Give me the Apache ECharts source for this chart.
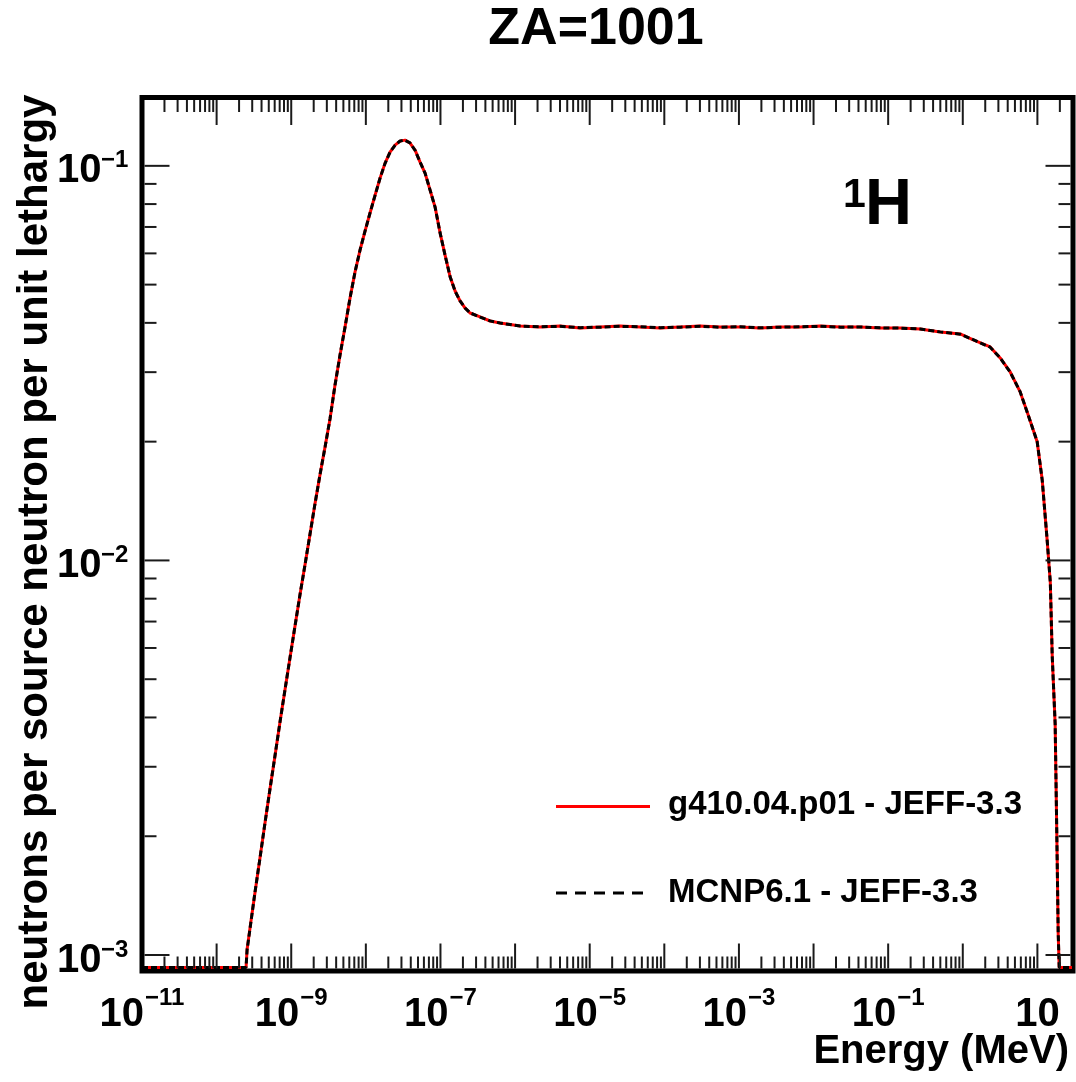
<!DOCTYPE html>
<html>
<head>
<meta charset="utf-8">
<title>ZA=1001</title>
<script src="https://cdn.jsdelivr.net/npm/echarts@6/dist/echarts.min.js"></script>
<style>
html, body { margin: 0; padding: 0; background: #fff; }
#main { width: 1076px; height: 1082px; }
</style>
</head>
<body>
<div id="main"></div>
<script>
var FONT = '"Liberation Sans", Arial, Helvetica, sans-serif';

// energy (MeV)
var energy = [1e-11, 2.48e-10, 2.56e-10, 2.81e-10, 3.27e-10, 3.82e-10, 4.46e-10, 5.20e-10, 6.07e-10, 7.08e-10,
    8.26e-10, 9.64e-10, 1.125e-9, 1.31e-9, 1.53e-9, 1.79e-9, 2.08e-9, 2.43e-9, 2.84e-9, 3.31e-9,
    3.86e-9, 4.51e-9, 5.26e-9, 6.14e-9, 7.16e-9, 8.36e-9, 9.75e-9, 1.138e-8, 1.33e-8, 1.55e-8,
    1.81e-8, 2.11e-8, 2.46e-8, 2.87e-8, 3.35e-8, 3.91e-8, 4.57e-8, 5.33e-8, 6.22e-8, 7.26e-8,
    8.47e-8, 9.89e-8, 1.153e-7, 1.35e-7, 1.57e-7, 1.83e-7, 2.14e-7, 2.49e-7, 3.40e-7, 4.62e-7,
    6.30e-7, 1.17e-6, 2.16e-6, 4.01e-6, 7.43e-6, 1.38e-5, 2.56e-5, 4.74e-5, 8.79e-5, 1.63e-4,
    3.02e-4, 5.60e-4, 1.04e-3, 1.92e-3, 3.56e-3, 6.61e-3, 1.22e-2, 2.28e-2, 4.22e-2, 7.82e-2,
    0.145, 0.269, 0.498, 0.923, 1.38, 2.33, 3.17, 4.32, 5.87, 7.53,
    9.93, 11.6, 13.5, 14.9, 15.8, 17.3, 18.4, 19.0, 19.6, 30];

// neutrons per source neutron per unit lethargy (empty bins sit on the floor)
var g4Flux = [9.3e-4, 9.3e-4, 1.033e-3, 1.175e-3, 1.441e-3, 1.768e-3, 2.167e-3, 2.642e-3, 3.203e-3, 3.904e-3,
    4.707e-3, 5.672e-3, 6.834e-3, 8.188e-3, 9.752e-3, 0.01168, 0.01391, 0.01648, 0.01940, 0.02284,
    0.02784, 0.03317, 0.03904, 0.04625, 0.05381, 0.06117, 0.06835, 0.07593, 0.08428, 0.09309,
    0.1016, 0.1083, 0.1128, 0.1155, 0.1162, 0.1142, 0.1096, 0.1022, 0.09583, 0.08679,
    0.07862, 0.06755, 0.05940, 0.05225, 0.04817, 0.04545, 0.04362, 0.04237, 0.04140, 0.04044,
    0.03997, 0.03928, 0.03904, 0.03928, 0.0388, 0.03904, 0.03928, 0.03904, 0.0388, 0.03904,
    0.03928, 0.03904, 0.03904, 0.0388, 0.03904, 0.03904, 0.03928, 0.03904, 0.03904, 0.0388,
    0.0388, 0.03859, 0.03793, 0.03749, 0.03620, 0.03475, 0.03259, 0.03003, 0.02674, 0.02337,
    0.01998, 0.01600, 0.01128, 8.78e-3, 5.74e-3, 3.84e-3, 1.77e-3, 1.13e-3, 9.3e-4, 9.3e-4];

var mcnpFlux = [9.3e-4, 9.3e-4, 1.030e-3, 1.170e-3, 1.445e-3, 1.765e-3, 2.170e-3, 2.640e-3, 3.210e-3, 3.900e-3,
    4.710e-3, 5.680e-3, 6.830e-3, 8.190e-3, 9.750e-3, 0.01170, 0.01390, 0.01650, 0.01938, 0.02286,
    0.02780, 0.03320, 0.03900, 0.04630, 0.05380, 0.06120, 0.06830, 0.07600, 0.08420, 0.09310,
    0.1015, 0.1084, 0.1127, 0.1156, 0.1161, 0.1143, 0.1095, 0.1023, 0.09580, 0.08680,
    0.07860, 0.06760, 0.05935, 0.05230, 0.04815, 0.04548, 0.04360, 0.04240, 0.04138, 0.04046,
    0.03995, 0.03925, 0.03910, 0.03920, 0.03890, 0.03900, 0.03920, 0.03910, 0.03890, 0.03900,
    0.03920, 0.03900, 0.03910, 0.03885, 0.03900, 0.03910, 0.03920, 0.03900, 0.03905, 0.03885,
    0.03880, 0.03860, 0.03795, 0.03745, 0.03625, 0.03470, 0.03260, 0.03000, 0.02678, 0.02335,
    0.02000, 0.01598, 0.01130, 8.80e-3, 5.72e-3, 3.85e-3, 1.76e-3, 1.14e-3, 9.3e-4, 9.3e-4];

var xRange = [1e-11, 30];
var yRange = [9.11e-4, 0.149];
var xLabelPowers = [-11, -9, -7, -5, -3, -1, 1];
var yLabelPowers = [-1, -2, -3];

// decade ticks plus 2..9 inside each decade
function logTicks(lo, hi) {
    var list = [];
    for (var p = Math.floor(Math.log10(lo)); p <= Math.ceil(Math.log10(hi)); p++) {
        for (var k = 1; k <= 9; k++) {
            var v = k * Math.pow(10, p);
            if (v >= lo * 0.999 && v <= hi * 1.001) list.push({ v: v, major: k === 1 });
        }
    }
    return list;
}
var xTicks = logTicks(xRange[0], xRange[1]);
var yTicks = logTicks(yRange[0], yRange[1]);

var ctx = document.createElement('canvas').getContext('2d');
function textWidth(s, size) {
    ctx.font = 'bold ' + size + 'px ' + FONT;
    return ctx.measureText(s).width;
}
function txt(s, x, y, size, align) {
    return {
        type: 'text',
        style: { text: s, x: x, y: y, font: 'bold ' + size + 'px ' + FONT, fill: '#000',
            textAlign: align, textVerticalAlign: 'middle' }
    };
}
function supText(p) {
    return p === 1 ? '' : '\u2212' + Math.abs(p);
}

// frame ticks and tick labels, placed with the axes' own scales
function renderAxes(params, api) {
    var cs = params.coordSys;
    var left = cs.x, right = cs.x + cs.width, top = cs.y, bottom = cs.y + cs.height;
    var inset = 2.5;
    var items = [];
    function tick(x1, y1, x2, y2) {
        items.push({ type: 'line', shape: { x1: x1, y1: y1, x2: x2, y2: y2 },
            style: { stroke: '#1a1a1a', lineWidth: 2 } });
    }
    xTicks.forEach(function (t) {
        var px = api.coord([t.v, yRange[0]])[0];
        if (px < left + 3 || px > right - 3) return;
        var len = t.major ? 25 : 12;
        tick(px, bottom - inset, px, bottom - inset - len);
        tick(px, top + inset, px, top + inset + len);
    });
    yTicks.forEach(function (t) {
        var py = api.coord([xRange[0], t.v])[1];
        if (py < top + 3 || py > bottom - 3) return;
        var len = t.major ? 25 : 12;
        tick(left + inset, py, left + inset + len, py);
        tick(right - inset, py, right - inset - len, py);
    });
    xLabelPowers.forEach(function (p) {
        var px = api.coord([Math.pow(10, p), yRange[0]])[0];
        var sup = supText(p);
        var wb = textWidth('10', 40);
        var ws = sup ? textWidth(sup, 24) + 1 : 0;
        var x0 = px - (wb + ws) / 2;
        items.push(txt('10', x0, 1015, 40, 'left'));
        if (sup) items.push(txt(sup, x0 + wb + 1, 998, 24, 'left'));
    });
    yLabelPowers.forEach(function (p) {
        var py = api.coord([xRange[0], Math.pow(10, p)])[1];
        items.push(txt('10', 101.5, py + 5.5, 40, 'right'));
        items.push(txt(supText(p), 101, py - 5, 24, 'left'));
    });
    return { type: 'group', children: items };
}

function pairs(ys) {
    return energy.map(function (e, i) { return [e, ys[i]]; });
}

var chart = echarts.init(document.getElementById('main'), null, { renderer: 'canvas' });
var option = {
    animation: false,
    backgroundColor: '#fff',
    grid: {
        left: 142, top: 97.5, width: 931, height: 873.5,
        show: true, borderColor: '#000', borderWidth: 5, backgroundColor: 'transparent'
    },
    xAxis: {
        type: 'log', logBase: 10, min: xRange[0], max: xRange[1],
        axisLine: { show: false }, axisTick: { show: false },
        axisLabel: { show: false }, splitLine: { show: false }
    },
    yAxis: {
        type: 'log', logBase: 10, min: yRange[0], max: yRange[1],
        axisLine: { show: false }, axisTick: { show: false },
        axisLabel: { show: false }, splitLine: { show: false }
    },
    series: [
        {
            name: 'g410.04.p01 - JEFF-3.3', type: 'line', data: pairs(g4Flux),
            symbol: 'none', z: 2,
            lineStyle: { color: '#ff0000', width: 3 }
        },
        {
            name: 'MCNP6.1 - JEFF-3.3', type: 'line', data: pairs(mcnpFlux),
            symbol: 'none', z: 3,
            lineStyle: { color: '#000', width: 3, type: [6, 3] }
        },
        {
            type: 'custom', coordinateSystem: 'cartesian2d', renderItem: renderAxes,
            data: [[1e-5, 0.01]], silent: true, clip: false, z: 5
        }
    ],
    graphic: [
        { type: 'text', x: 596, y: 30, style: { text: 'ZA=1001', font: 'bold 52px ' + FONT, fill: '#000',
            textAlign: 'center', textVerticalAlign: 'middle' } },
        { type: 'text', x: 35, y: 552, rotation: Math.PI / 2,
            style: { text: 'neutrons per source neutron per unit lethargy', font: 'bold 42px ' + FONT,
                fill: '#000', textAlign: 'center', textVerticalAlign: 'middle' } },
        { type: 'text', x: 1069, y: 1052, style: { text: 'Energy (MeV)', font: 'bold 40px ' + FONT, fill: '#000',
            textAlign: 'right', textVerticalAlign: 'middle' } },
        { type: 'text', x: 843, y: 196, style: { text: '1', font: 'bold 41px ' + FONT, fill: '#000',
            textAlign: 'left', textVerticalAlign: 'middle' } },
        { type: 'text', x: 865, y: 206, style: { text: 'H', font: 'bold 65px ' + FONT, fill: '#000',
            textAlign: 'left', textVerticalAlign: 'middle' } },
        // legend
        { type: 'line', shape: { x1: 556, y1: 806.5, x2: 650, y2: 806.5 },
            style: { stroke: '#ff0000', lineWidth: 3 } },
        { type: 'text', x: 668, y: 805, style: { text: 'g410.04.p01 - JEFF-3.3', font: 'bold 33px ' + FONT,
            fill: '#000', textAlign: 'left', textVerticalAlign: 'middle' } },
        { type: 'line', shape: { x1: 556, y1: 893, x2: 647, y2: 893 },
            style: { stroke: '#000', lineWidth: 3, lineDash: [11, 8] } },
        { type: 'text', x: 668, y: 893, style: { text: 'MCNP6.1 - JEFF-3.3', font: 'bold 33px ' + FONT,
            fill: '#000', textAlign: 'left', textVerticalAlign: 'middle' } }
    ]
};
chart.setOption(option);
</script>
</body>
</html>
